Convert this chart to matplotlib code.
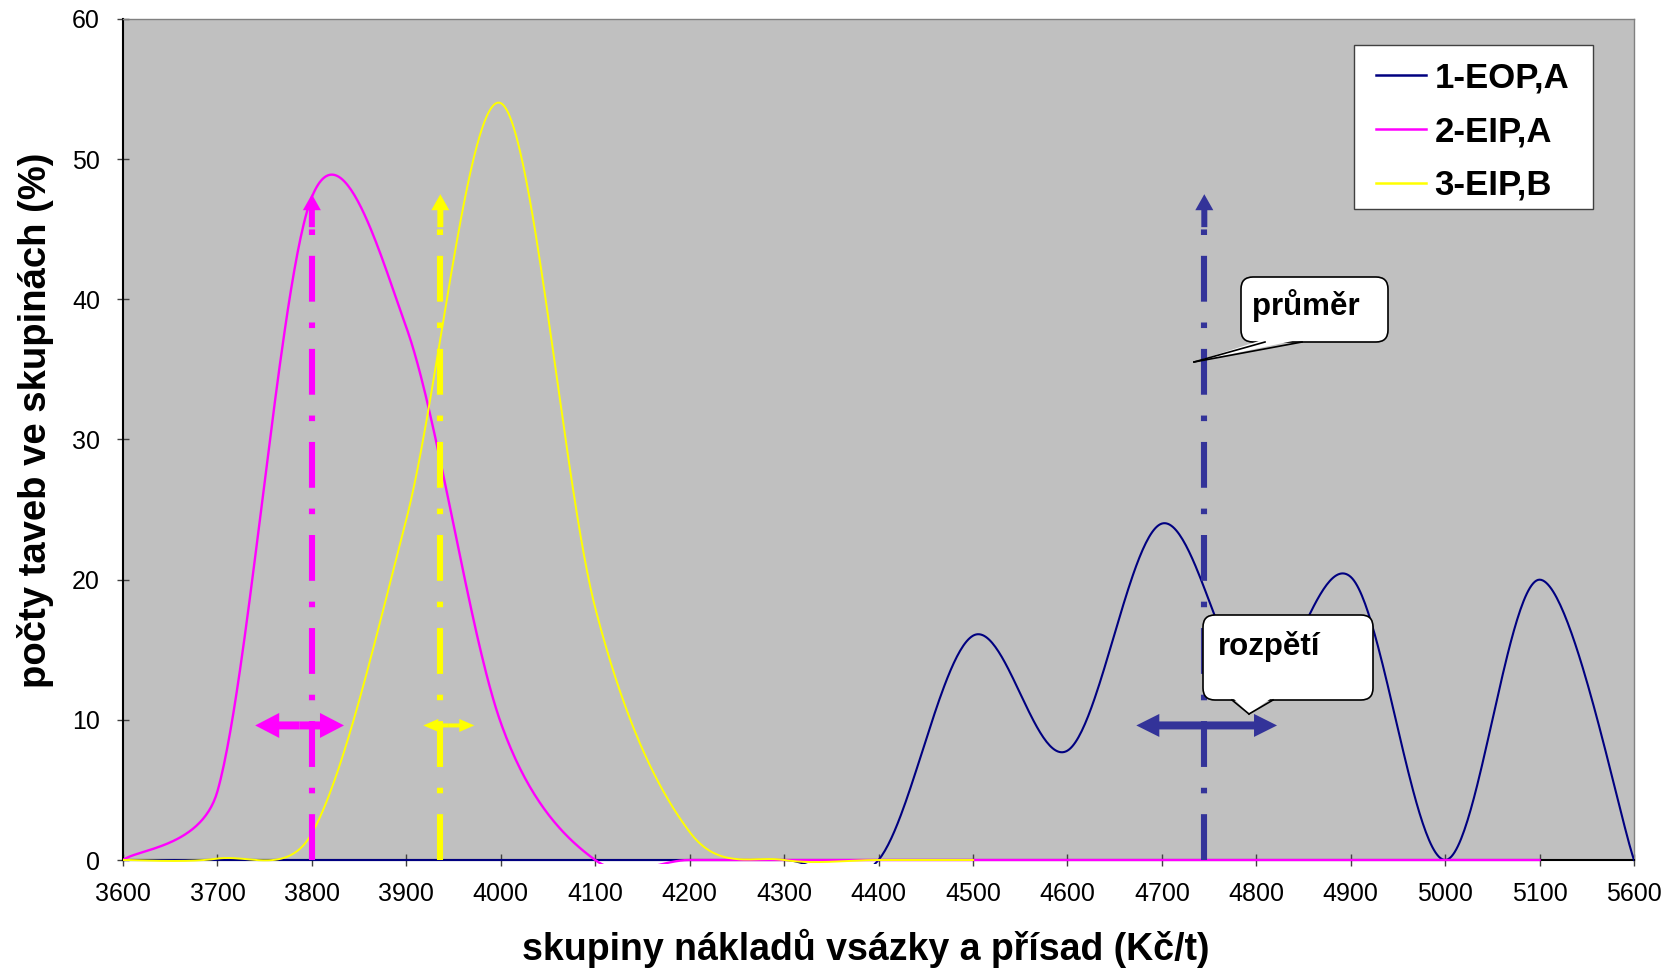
import numpy as np
import matplotlib
matplotlib.use("Agg")
import matplotlib.pyplot as plt
from matplotlib.patches import FancyArrowPatch, FancyBboxPatch, Polygon, Rectangle
from matplotlib.lines import Line2D
from matplotlib.transforms import IdentityTransform

plt.rcParams['font.family'] = ['Liberation Sans', 'DejaVu Sans']
plt.rcParams['lines.scale_dashes'] = False

# ---------------- data ----------------
categories = [3600, 3700, 3800, 3900, 4000, 4100, 4200, 4300, 4400,
              4500, 4600, 4700, 4800, 4900, 5000, 5100, 5600]
tick_labels = [str(c) for c in categories]

labels = ['1-EOP,A', '2-EIP,A', '3-EIP,B']
s1_eop_a = [0, 0, 0, 0, 0, 0, 0, 0, 0, 16.0, 7.8, 24.0, 12.0, 20.2, 0, 20.0, 0]
s2_eip_a = [0, 4.9, 47.3, 38.0, 9.8, 0, 0, 0, 0, 0, 0, 0, 0, 0, 0, 0]
s3_eip_b = [0, 0.1, 1.9, 24.3, 54.0, 18.0, 2.0, 0, 0, 0]

colors = ['#000080', '#FF00FF', '#FFFF00']
arrow_colors = ['#333399', '#FF00FF', '#FFFF00']

# mean (průměr) and range (rozpětí) markers, in Kč/t
mean_values = [4745, 3800, 3936]
range_lo = [4673, 3740, 3918]
range_hi = [4822, 3834, 3972]
range_level = 9.6
mean_top = 47.5

xlabel = 'skupiny nákladů vsázky a přísad (Kč/t)'
ylabel = 'počty taveb ve skupinách (%)'

# ---------------- figure ----------------
W, H = 1669, 972
fig = plt.figure(figsize=(W / 100, H / 100), dpi=100)
ax = fig.add_axes([123 / W, 1 - 860 / H, 1511 / W, 841 / H])
ax.set_facecolor('#C0C0C0')
ax.set_xlim(0, len(categories) - 1)
ax.set_ylim(0, 60)

sx = 1511 / (len(categories) - 1)
sy = 841 / 60.0


def to_idx(v):
    return np.interp(v, categories, np.arange(len(categories)))


def excel_smooth(ys, n=60):
    xs = np.arange(len(ys), dtype=float)
    P = np.column_stack([xs * sx, np.asarray(ys, float) * sy])
    out = []
    for i in range(len(P) - 1):
        p1, p2 = P[i], P[i + 1]
        p0 = P[i - 1] if i > 0 else p1
        p3 = P[i + 2] if i + 2 < len(P) else p2
        d12 = np.linalg.norm(p2 - p1)
        d02 = np.linalg.norm(p2 - p0)
        d13 = np.linalg.norm(p3 - p1)
        f1 = 1 / 6 if d02 / 6 < d12 / 2 else d12 / (2 * d02)
        f2 = 1 / 6 if d13 / 6 < d12 / 2 else d12 / (2 * d13)
        c1 = p1 + (p2 - p0) * f1
        c2 = p2 - (p3 - p1) * f2
        t = np.linspace(0, 1, n)[:, None]
        if i > 0:
            t = t[1:]
        B = ((1 - t) ** 3) * p1 + 3 * ((1 - t) ** 2) * t * c1 + 3 * (1 - t) * t ** 2 * c2 + t ** 3 * p2
        out.append(B)
    B = np.vstack(out)
    return B[:, 0] / sx, B[:, 1] / sy


clip_rect = Rectangle((0, -0.005), 1, 1.01, transform=ax.transAxes,
                      facecolor='none', edgecolor='none')
ax.add_patch(clip_rect)

series = [s1_eop_a, s2_eip_a, s3_eip_b]
lws = [1.5, 1.7, 1.4]
handles = []
for k, (ys, c, lab, lw) in enumerate(zip(series, colors, labels, lws)):
    x, y = excel_smooth(ys)
    ln, = ax.plot(x, y, color=c, lw=lw, label=lab, zorder=3 + k, solid_joinstyle='round')
    ln.set_clip_path(clip_rect)
    handles.append(ln)

# mean arrows (vertical dash-dot)
for k, (m, c) in enumerate(zip(mean_values, arrow_colors)):
    xi = to_idx(m)
    tail = 2.3
    ax.plot([xi, xi], [0, mean_top - tail], color=c, lw=4.4,
            dashes=(33, 15, 4, 15), dash_capstyle='butt', zorder=7, clip_on=False)
    ax.add_patch(FancyArrowPatch((xi, mean_top - tail - 0.05), (xi, mean_top),
                                 arrowstyle='simple,head_length=16,head_width=18,tail_width=6',
                                 mutation_scale=0.72, color=c, lw=0,
                                 shrinkA=0, shrinkB=0, zorder=7))

# range arrows (horizontal double)
sizes = [(23, 23, 8), (24, 25, 8), (15, 13, 4)]
for k, (lo, hi, c) in enumerate(zip(range_lo, range_hi, arrow_colors)):
    a, b = to_idx(lo), to_idx(hi)
    mid = (a + b) / 2
    hl, hw, tw = sizes[k]
    for end in (a, b):
        ax.add_patch(FancyArrowPatch((mid, range_level), (end, range_level),
                                     arrowstyle=f'simple,head_length={hl},head_width={hw},tail_width={tw}',
                                     mutation_scale=0.72, color=c, lw=0,
                                     shrinkA=0, shrinkB=0, zorder=8))

# ---------------- axes styling ----------------
ax.set_xticks(range(len(categories)))
ax.set_xticklabels(tick_labels)
ax.set_yticks(range(0, 61, 10))
ax.tick_params(axis='both', direction='inout', length=9, width=1, color='#404040',
               labelsize=18, labelcolor='black')
ax.tick_params(axis='x', pad=11)
ax.tick_params(axis='y', pad=12)
for s in ['left', 'bottom']:
    ax.spines[s].set_color('black')
    ax.spines[s].set_linewidth(1.5)
for s in ['top', 'right']:
    ax.spines[s].set_color('#808080')
    ax.spines[s].set_linewidth(1.0)

fig.text(866 / W, 1 - 960 / H, xlabel, ha='center', va='baseline',
         fontsize=27, fontweight='bold')
fig.text(36 / W, 1 - 420 / H, ylabel, ha='center', va='center',
         rotation=90, fontsize=27.5, fontweight='bold')

# legend: frame drawn separately (inside the axes), entries by the library
idt = IdentityTransform()
leg_frame = Rectangle((1354, H - 209), 1593 - 1354, 209 - 45,
                      facecolor='white', edgecolor='#404040', lw=1.0,
                      transform=idt, zorder=19, clip_on=False)
ax.add_artist(leg_frame)
leg = ax.legend(handles=handles, loc='upper left',
                bbox_to_anchor=(1376 / W, 1 - 61.5 / H), bbox_transform=fig.transFigure,
                borderaxespad=0, prop={'weight': 'bold', 'size': 25},
                frameon=False, handlelength=1.44, handletextpad=0.25,
                borderpad=0, labelspacing=0.594)
for lh in leg.get_lines():
    lh.set_linewidth(1.8)
leg.set_zorder(20)

# ---------------- callouts ----------------


def callout(x0, y0, x1, y1, bl, br, tip, text, tx, ty):
    box = FancyBboxPatch((x0, H - y1), x1 - x0, y1 - y0,
                         boxstyle='round,pad=0,rounding_size=12',
                         facecolor='white', edgecolor='black', lw=1.2,
                         transform=idt, zorder=30)
    fig.add_artist(box)
    poly = Polygon([(bl, H - y1 + 3), (tip[0], H - tip[1]), (br, H - y1 + 3)],
                   closed=True, facecolor='white', edgecolor='none',
                   transform=idt, zorder=31)
    fig.add_artist(poly)
    for bx in (bl, br):
        fig.add_artist(Line2D([bx, tip[0]], [H - y1, H - tip[1]], color='black',
                              lw=1.2, transform=idt, zorder=32))
    fig.text(tx / W, 1 - ty / H, text, ha='left', va='baseline',
             fontsize=22.5, fontweight='bold', zorder=33)


callout(1241, 277, 1388, 342, 1265, 1302, (1194, 362), 'průměr', 1252, 315)
callout(1203, 615, 1373, 700, 1232, 1273, (1249, 714), 'rozpětí', 1218, 655)

fig.savefig('out.png', dpi=100)
